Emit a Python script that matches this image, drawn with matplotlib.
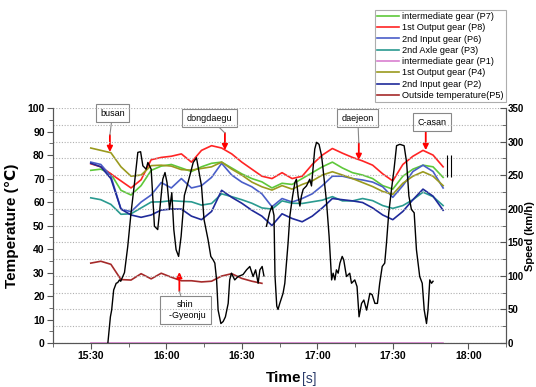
import numpy as np
import matplotlib
matplotlib.use("Agg")
import matplotlib.pyplot as plt
from matplotlib.ticker import MultipleLocator

plt.rcParams['font.family'] = ['Liberation Sans', 'DejaVu Sans']

# time grid for temperatures, minutes after 15:00
time_min = [30, 34, 38, 42, 46, 50, 54, 58, 62, 66, 70, 74, 78, 82, 86, 90, 94, 98,
            102, 106, 110, 114, 118, 122, 126, 130, 134, 138, 142, 146, 150, 154,
            158, 162, 166, 170]

p7_inter = [73.5, 74, 72, 65, 63, 67, 73.5, 75.3, 76, 74.5, 73, 75, 76.5, 77, 74.5, 72,
            70, 68.6, 66, 68, 67.5, 70, 72.5, 75, 77, 74.5, 72.5, 71.5, 70, 67, 65.5,
            71, 74, 75.7, 75, 70.5]
p8_out1 = [76.3, 75, 72, 69, 66, 69.5, 78, 79, 79.5, 80.5, 77, 82, 84, 83, 80.5, 77,
           74, 71, 70, 72.5, 70, 71, 76, 80, 82.8, 80.8, 79, 77.5, 75.7, 72, 69, 76,
           79.5, 82, 80, 75]
p6_in2 = [77, 76, 71, 57, 55.9, 60, 63, 68.3, 66, 70, 66, 67, 70.5, 76.5, 71.5, 68.5,
          66.5, 63.5, 58, 61.5, 60, 61.5, 63.5, 67, 71, 71, 70, 69.4, 68.5, 66.5, 62,
          67, 73, 75.7, 73, 66]
p3_axle = [61.8, 61, 59, 54.8, 55, 57.5, 60, 60.1, 60.6, 60.3, 60.1, 58.7, 59.4, 63.5,
           62.3, 61, 59.5, 57.5, 57, 60.5, 59.5, 59.4, 60.1, 60.8, 62.3, 60.5, 60.5,
           61.5, 60.6, 58.5, 57.3, 58.5, 61, 64.2, 62.3, 58.5]
p1_inter = [0] * 36
p4_out1 = [83, 82, 81, 75, 71, 71.5, 75.5, 75.7, 75.3, 73.8, 73.6, 74.3, 75, 77, 74,
           71.5, 68.5, 66.5, 65.1, 67, 65.5, 67.5, 69, 71.5, 72.9, 71.5, 70, 68.3,
           66.6, 64.5, 63.3, 68, 71, 72.9, 71, 67]
p2_in2 = [76.5, 75, 70, 57, 54.5, 53.5, 54.5, 56.6, 57, 57, 54, 52.5, 56, 65, 62, 59.5,
          56.5, 54, 50, 55, 53, 51.6, 54, 57.5, 61.5, 61, 60.5, 59.8, 57.5, 54.5,
          52.5, 56, 61, 65.5, 62.5, 56.5]
p5_outside = [34, 34.8, 33.5, 27, 26.8, 29.5, 27.3, 29.7, 28, 26.5, 26.5, 26, 26.3,
              28.5, 29.5, 27.5, 26.3, 25.4]

# vehicle speed (km/h); None marks the gap in the record
speed_time = [36.8, 37.8, 38.3, 39.1, 40.1, 40.7, 41.4, 41.9, 42.7, 43.4, 44.7, 46.0,
              47.4, 48.7, 49.8, 50.7, 52.0, 52.7, 54.0, 54.6, 55.3, 56.6, 57.3, 58.6,
              59.5, 60.3, 61.3, 62.2, 63.0, 63.9, 64.9, 65.9, 67.2, 68.7, 70.7, 72.0,
              73.3, 74.0, 75.0, 76.6, 77.7, 78.6, 79.3, 80.0, 80.6, 81.7, 82.6, 83.5,
              84.6, 85.2, 85.9, 87.2, 88.5, 90.5, 91.9, 93.2, 94.5, 95.5, 96.5, 97.2,
              98.1, 98.8, 99.3,
              99.8, 101.1, 102.0, 102.8, 103.2, 103.9, 104.4, 105.1, 106.4, 107.1,
              108.4, 109.1, 110.2, 111.1, 111.7, 112.4, 113.1, 113.7, 114.4, 115.7,
              117.0, 117.7, 118.3, 119.0, 119.7, 120.7, 121.7, 122.3, 123.7, 124.7,
              125.7, 126.3, 127.0, 127.6, 128.3, 129.0, 129.9, 130.5, 131.6, 132.9,
              133.6, 134.9, 135.8, 136.6, 137.6, 138.5, 139.6, 140.9, 141.8, 142.9,
              143.9, 144.8, 145.8, 146.8, 147.5, 148.4, 149.5, 150.5, 151.5, 152.8,
              154.5, 155.5, 156.4, 157.4, 158.5, 159.4, 160.7, 161.7, 162.5, 163.4,
              164.0, 164.7, 165.4, 166.0]
speed_kmh = [0, 39, 49, 79, 89, 90, 94, 92, 99, 105, 144, 194, 239, 284, 285, 264, 259,
             269, 259, 219, 174, 169, 194, 244, 254, 239, 199, 224, 169, 139, 129, 159,
             220, 240, 269, 276, 249, 234, 184, 154, 129, 124, 119, 94, 49, 29, 32, 39,
             59, 94, 104, 94, 99, 102, 109, 114, 99, 109, 89, 109, 114, 100, None,
             174, 195, 204, 190, 100, 55, 50, 59, 74, 89, 149, 189, 219, 239, 244, 219,
             204, 219, 229, 234, 244, 234, 259, 289, 299, 296, 279, 259, 209, 159, 94,
             104, 94, 109, 104, 119, 129, 124, 99, 104, 89, 94, 84, 39, 59, 64, 49, 74,
             72, 59, 59, 89, 114, 119, 149, 194, 229, 259, 294, 296, 294, 269, 219, 199,
             194, 139, 99, 89, 49, 29, 49, 94, 89, 92]

tick_pos = [30, 60, 90, 120, 150, 180]
tick_labels = ['15:30', '16:00', '16:30', '17:00', '17:30', '18:00']

end_marker_times = [171.6, 173.2]

# (label, text position (min, degC), arrow start, arrow tip)
stations = [
    ('busan', (38.7, 97.9), (37.6, 88.5), (37.6, 81.3)),
    ('dongdaegu', (77.3, 95.7), (83.3, 89.4), (83.3, 82.1)),
    ('daejeon', (136.1, 95.7), (136.5, 85.1), (136.5, 77.9)),
    ('C-asan', (165.5, 94.0), (163.1, 90.6), (163.1, 82.1)),
    ('shin\n  -Gyeonju', (67.5, 14.0), (65.2, 22.1), (65.2, 30.2)),
]

fig = plt.figure(figsize=(5.36, 3.87), dpi=100)
ax = fig.add_axes([0.0989, 0.1137, 0.8452, 0.607])
ax2 = ax.twinx()

series = [
    ('intermediate gear (P7)', p7_inter, '#5ec83a'),
    ('1st Output gear (P8)', p8_out1, '#ff2424'),
    ('2nd Input gear (P6)', p6_in2, '#4a5ec8'),
    ('2nd Axle gear (P3)', p3_axle, '#2a9a90'),
    ('intermediate gear (P1)', p1_inter, '#d97fd0'),
    ('1st Output gear (P4)', p4_out1, '#9a9a1e'),
    ('2nd Input gear (P2)', p2_in2, '#1f2a9a'),
]
handles = []
for name, vals, col in series:
    h, = ax.plot(time_min, vals, color=col, lw=1.2, label=name, zorder=3)
    handles.append(h)
h, = ax.plot(time_min[:len(p5_outside)], p5_outside, color='#a52a2a', lw=1.2,
             label='Outside temperature(P5)', zorder=3)
handles.append(h)

sp = np.array([np.nan if v is None else v for v in speed_kmh], dtype=float)
ax2.plot(speed_time, sp, color='black', lw=1.0, zorder=4)
ax2.vlines(end_marker_times, 247, 280, color='black', lw=0.8)

ax.set_xlim(15, 195)
ax.set_ylim(0, 100)
ax2.set_ylim(0, 350)
ax.set_xticks(tick_pos)
ax.set_xticklabels(tick_labels)
ax.xaxis.set_minor_locator(MultipleLocator(15))
ax.yaxis.set_major_locator(MultipleLocator(10))
ax.yaxis.set_minor_locator(MultipleLocator(5))
ax2.yaxis.set_major_locator(MultipleLocator(50))
ax2.yaxis.set_minor_locator(MultipleLocator(25))

ax2.grid(True, which='both', axis='y', color='#b0b0b0', ls=(0, (1, 1.5)), lw=0.8)
ax2.set_axisbelow(True)

for a in (ax, ax2):
    a.spines['top'].set_visible(False)
    for s in a.spines.values():
        s.set_color('#555555')
    a.tick_params(which='both', direction='out', color='#555555', labelsize=7.5, pad=2)
    a.tick_params(which='major', length=4)
    a.tick_params(which='minor', length=3)
    for lab in a.get_xticklabels() + a.get_yticklabels():
        lab.set_fontweight('bold')
ax2.tick_params(which='both', direction='in', pad=1, labelsize=7)

ax.set_ylabel('Temperature (\u2103)', fontsize=11, fontweight='bold', labelpad=6)
fig.text(0.562, 0.022, 'Time', fontsize=11, fontweight='bold', ha='right', va='center')
fig.text(0.564, 0.020, '[s]', fontsize=10, color='#2a3a6a', ha='left', va='center')
fig.text(0.999, 0.39, 'Speed (km/h)', fontsize=8, fontweight='bold', rotation=90,
         ha='right', va='center')

for label, tpos, a0, a1 in stations:
    ax.annotate('', xy=a1, xytext=a0,
                arrowprops=dict(arrowstyle='-|>', color='red', lw=1.3,
                                mutation_scale=8, shrinkA=0, shrinkB=0), zorder=6)
    ax.annotate(label, xy=a0, xytext=tpos, fontsize=6.5, ha='center', va='center',
                annotation_clip=False,
                bbox=dict(boxstyle='square,pad=0.5', fc='white', ec='#888888', lw=0.8),
                arrowprops=dict(arrowstyle='-', color='#888888', lw=0.8,
                                shrinkA=0, shrinkB=0), zorder=7)

leg = fig.legend(handles=handles, loc='upper left', bbox_to_anchor=(0.700, 0.975),
                 fontsize=6.6, frameon=True, fancybox=False, edgecolor='#999999',
                 handlelength=2.4, handletextpad=0.3, labelspacing=0.25,
                 borderpad=0.25, borderaxespad=0)
leg.get_frame().set_linewidth(0.8)

fig.savefig('out.png', dpi=100)
